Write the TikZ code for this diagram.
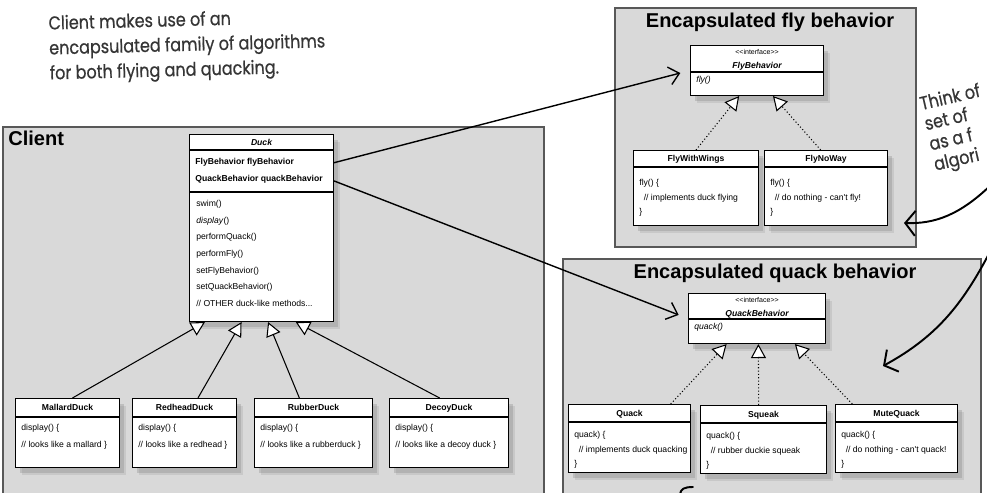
\documentclass[tikz,border=0pt]{standalone}
\usepackage{fontspec}
\setmainfont{Liberation Sans}[Ligatures=TeXOff]
\newfontfamily\handfont{Poppins}[FakeStretch=0.86, FakeBold=0.6]
\usetikzlibrary{arrows.meta,calc,shadows}

\definecolor{groupfill}{HTML}{D9D9D9}
\definecolor{groupline}{HTML}{585858}
\definecolor{handgray}{HTML}{353535}

\tikzset{
  groupframe/.style={draw=groupline, line width=1.2pt, fill=groupfill, inner sep=0, anchor=north west},
  grouptitle/.style={font=\fontsize{11.4}{13}\selectfont\bfseries, inner sep=0},
  classbox/.style={draw=black, line width=0.6pt, fill=white, inner sep=0, anchor=north west,
    drop shadow={shadow xshift=1.3mm, shadow yshift=-1.5mm, opacity=0.18},
    drop shadow={shadow xshift=0.8mm, shadow yshift=-1mm, opacity=0.3}},
  classtitle/.style={font=\fontsize{4.9}{6}\selectfont\bfseries, inner sep=0, text height=3.5pt, text depth=0pt},
  stereotype/.style={font=\fontsize{4}{5}\selectfont, inner sep=0, text height=2.9pt, text depth=0pt},
  classbody/.style={font=\fontsize{4.9}{8.3}\selectfont, align=left, anchor=north west, inner sep=0},
  inherit/.style={draw=black, line width=0.6pt, -{Triangle[fill=white, length=2.8mm, width=3mm]}},
  realize/.style={inherit, dash pattern=on 0.6pt off 1.3pt},
  assoc/.style={draw=black, line width=0.8pt, shorten >=0.2cm, -{Straight Barb[length=2mm, width=3.6mm]}},
  handnote/.style={font=\handfont\fontsize{10.6}{14.2}\selectfont, text=handgray, align=left, inner sep=0},
  handarrow/.style={draw=black, line width=1.1pt, line cap=round, -{Straight Barb[length=2mm, width=5mm]}}
}

% [body offset]{name}{x}{y}{width}{height}{separator}{title}{body}
\newcommand{\umlclass}[9][7]{%
  \node[classbox, minimum width=#5*0.02cm, minimum height=#6*0.02cm] (#2) at (#3,#4) {};
  \node[classtitle] (#2-title) at ($(#2.north)+(0,#7/2)$) {#8};
  \draw[line width=0.6pt] ($(#2.north west)+(0,#7)$) -- ($(#2.north east)+(0,#7)$);
  \node[classbody] (#2-body) at ($(#2.north west)+(6,#7+#1)$) {#9};
}

\begin{document}
\begin{tikzpicture}[x=0.02cm, y=-0.02cm]
\useasboundingbox (0,0) rectangle (987,493);
\clip (0,0) rectangle (987,493);

% groups
\node[groupframe, minimum width=541*0.02cm, minimum height=400*0.02cm] (clientgrp) at (2,126) {};
\node[groupframe, minimum width=301*0.02cm, minimum height=239*0.02cm] (flygrp) at (614,7) {};
\node[groupframe, minimum width=418*0.02cm, minimum height=260*0.02cm] (quackgrp) at (562,258) {};
\node[grouptitle, anchor=base west] (clienttitle) at (8,146) {Client};
\node[grouptitle, anchor=base] (flytitle) at (770,28) {Encapsulated fly behavior};
\node[grouptitle, anchor=base] (quacktitle) at (775,278) {Encapsulated quack behavior};

% Duck
\node[classbox, minimum width=144*0.02cm, minimum height=187*0.02cm] (duck) at (189,134) {};
\node[classtitle, font=\fontsize{4.9}{6}\selectfont\bfseries\itshape] (duck-title) at ($(duck.north)+(0,8)$) {Duck};
\draw[line width=0.6pt] ($(duck.north west)+(0,16)$) -- ($(duck.north east)+(0,16)$);
\node[classbody, font=\fontsize{4.9}{9.7}\selectfont\bfseries] (duck-fields) at ($(duck.north west)+(6,24)$)
  {FlyBehavior flyBehavior\\QuackBehavior quackBehavior};
\draw[line width=0.6pt] ($(duck.north west)+(0,58)$) -- ($(duck.north east)+(0,58)$);
\node[classbody, font=\fontsize{4.9}{9.48}\selectfont] (duck-methods) at ($(duck.north west)+(7,66)$)
  {swim()\\\textit{display}()\\performQuack()\\performFly()\\setFlyBehavior()\\setQuackBehavior()\\// OTHER duck-like methods...};

\umlclass{mallard}{15}{398}{104}{69}{19}{MallardDuck}{display() \{\\[1.4pt]// looks like a mallard \}}
\umlclass{redhead}{132}{398}{104}{69}{19}{RedheadDuck}{display() \{\\[1.4pt]// looks like a redhead \}}
\umlclass{rubber}{254}{398}{118}{69}{19}{RubberDuck}{display() \{\\[1.4pt]// looks like a rubberduck \}}
\umlclass{decoy}{389}{398}{119}{69}{19}{DecoyDuck}{display() \{\\[1.4pt]// looks like a decoy duck \}}

% fly behaviors
\node[classbox, minimum width=133*0.02cm, minimum height=50*0.02cm] (flybeh) at (690,45) {};
\node[stereotype] (flybeh-stereo) at ($(flybeh.north)+(0,7)$) {<<interface>>};
\node[classtitle, font=\fontsize{4.9}{6}\selectfont\bfseries\itshape] (flybeh-title) at ($(flybeh.north)+(0,20)$) {FlyBehavior};
\draw[line width=0.6pt] ($(flybeh.north west)+(0,27)$) -- ($(flybeh.north east)+(0,27)$);
\node[classbody] (flybeh-body) at ($(flybeh.north west)+(6,31)$) {\textit{fly()}};

\umlclass[12]{flywings}{633}{150}{125}{75}{17}{FlyWithWings}{fly() \{\\\hspace*{2.5pt}// implements duck flying\\\}}
\umlclass[12]{flynoway}{764}{150}{123}{75}{17}{FlyNoWay}{fly() \{\\\hspace*{2.5pt}// do nothing - can't fly!\\\}}

% quack behaviors
\node[classbox, minimum width=137*0.02cm, minimum height=50*0.02cm] (quackbeh) at (688,293) {};
\node[stereotype] (quackbeh-stereo) at ($(quackbeh.north)+(0,7)$) {<<interface>>};
\node[classtitle, font=\fontsize{4.9}{6}\selectfont\bfseries\itshape] (quackbeh-title) at ($(quackbeh.north)+(0,20)$) {QuackBehavior};
\draw[line width=0.6pt] ($(quackbeh.north west)+(0,26)$) -- ($(quackbeh.north east)+(0,26)$);
\node[classbody] (quackbeh-body) at ($(quackbeh.north west)+(6,30)$) {\textit{quack()}};

\umlclass[9]{quack}{568}{404}{122}{68}{18}{Quack}{quack) \{\\\hspace*{2.5pt}// implements duck quacking\\\}}
\umlclass[9]{squeak}{700}{405}{126}{68}{18}{Squeak}{quack() \{\\\hspace*{2.5pt}// rubber duckie squeak\\\}}
\umlclass[9]{mutequack}{835}{404}{122}{68}{18}{MuteQuack}{quack() \{\\\hspace*{2.5pt}// do nothing - can't quack!\\\}}

% connectors
\draw[inherit] (mallard.82) -- (duck.239);
\draw[inherit] (redhead.69) -- (duck.258);
\draw[inherit] (rubber.112) -- (duck.274);
\draw[inherit] (decoy.105) -- (duck.290);
\draw[realize] (flywings.north) -- (flybeh.235);
\draw[realize] (flynoway.98) -- (flybeh.302);
\draw[realize] (quack.40) -- (quackbeh.220);
\draw[realize] (squeak.98) -- (quackbeh.273);
\draw[realize] (mutequack.142) -- (quackbeh.326);
\draw[assoc] (duck.42) -- (flybeh.west);
\draw[assoc] (duck.33) -- (quackbeh.west);

% hand written notes
\node[handnote, anchor=north west, rotate=1.5] (clientnote) at (48,15)
  {Client makes use of an\\encapsulated family of algorithms\\for both flying and quacking.};
\node[handnote, anchor=north west, rotate=13, font=\handfont\fontsize{10.6}{11.8}\selectfont] (thinknote) at (918,96)
  {Think of\\set of\\as a f\\algori};
\coordinate (thinkfrom1) at (992,184);
\coordinate (thinkto1) at (904,223);
\coordinate (thinkfrom2) at (992,248);
\coordinate (thinkto2) at (883,366);
\draw[handarrow] (thinkfrom1) .. controls (960,215) and (935,224) .. (thinkto1);
\draw[handarrow] (thinkfrom2) .. controls (965,300) and (940,335) .. (thinkto2);
\draw[line width=1.1pt, line cap=round] (680,494) .. controls (681,489) and (684,487) .. (693,487);
\end{tikzpicture}
\end{document}
